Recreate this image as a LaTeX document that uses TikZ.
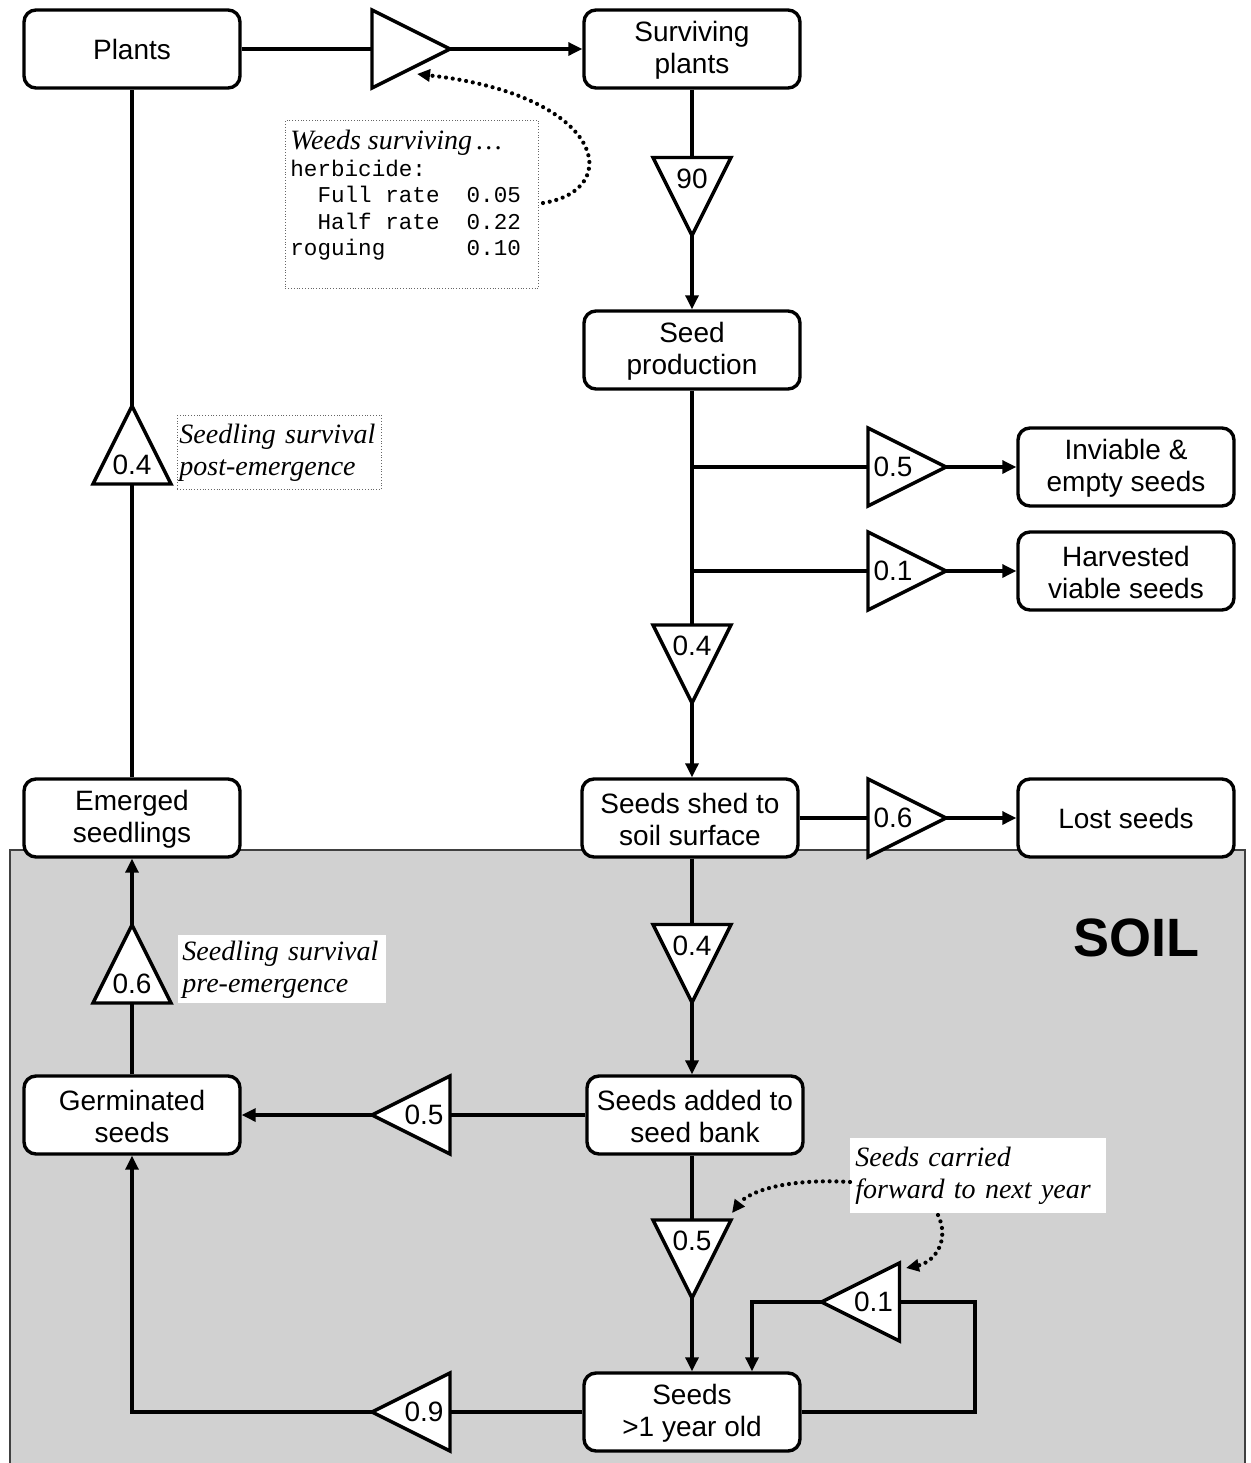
\documentclass[tikz,border=0pt]{standalone}
\usepackage{fontspec}
\setmainfont{Liberation Sans}
\newfontfamily\serifit{Liberation Serif}
\newfontfamily\monof{Liberation Mono}
\usetikzlibrary{arrows.meta,calc}

\tikzset{
  box/.style={draw, line width=1.7pt, rounded corners=6pt, fill=white,
    minimum width=108pt, minimum height=39pt, align=center, inner sep=2pt,
    font=\fontsize{14}{16}\selectfont},
  tb/.style={minimum width=39pt, minimum height=39pt, inner sep=0pt, outer sep=0pt},
  triline/.style={draw, line width=1.7pt, fill=white, line join=miter},
  num/.style={font=\fontsize{14}{16}\selectfont, inner sep=0pt},
  conn/.style={line width=1.6pt},
  arr/.style={conn, -{Triangle[length=7pt,width=6.5pt]}},
  dotarr/.style={line width=2.1pt, dash pattern=on 0pt off 3.4pt, line cap=round,
    -{Triangle[length=6.5pt,width=6pt]}},
  note/.style={font=\serifit\itshape\fontsize{14}{16}\selectfont, align=left,
    anchor=north west, inner xsep=2.5pt, inner ysep=2pt, fill=white},
}

\newcommand\TriR[4]{%
  \node[tb] (#1) at (#2,#3) {};
  \draw[triline] (#1.north west) -- (#1.east) -- (#1.south west) -- cycle;
  \node[num] (#1-l) at ($(#1.west)+(25,0)$) {#4};}
\newcommand\TriL[4]{%
  \node[tb] (#1) at (#2,#3) {};
  \draw[triline] (#1.north east) -- (#1.west) -- (#1.south east) -- cycle;
  \node[num] (#1-l) at ($(#1.east)+(-26,0)$) {#4};}
\newcommand\TriD[4]{%
  \node[tb] (#1) at (#2,#3) {};
  \draw[triline] (#1.north west) -- (#1.south) -- (#1.north east) -- cycle;
  \node[num] (#1-l) at ($(#1.north)+(0,21)$) {#4};}
\newcommand\TriU[4]{%
  \node[tb] (#1) at (#2,#3) {};
  \draw[triline] (#1.south west) -- (#1.north) -- (#1.south east) -- cycle;
  \node[num] (#1-l) at ($(#1.south)+(0,-19)$) {#4};}

\begin{document}
\begin{tikzpicture}[x=0.5pt,y=-0.5pt]
\useasboundingbox (0,0) rectangle (1250,1463);

% soil region
\fill[black!18] (10,850) rectangle (1245,1470);
\draw[black!75, line width=0.6pt] (10,1470) -- (10,850) -- (1245,850) -- (1245,1470);
\node[font=\bfseries\fontsize{27}{30}\selectfont] (soil) at (1136,938) {SOIL};

% boxes
\node[box] (plants)  at (132,49)   {Plants};
\node[box] (surv)    at (692,49)   {\strut Surviving\\plants};
\node[box] (seedp)   at (692,350)  {\strut Seed\\production};
\node[box] (inv)     at (1126,467) {\strut Inviable \&\\empty seeds};
\node[box] (harv)    at (1126,571) {\strut Harvested\\viable seeds};
\node[box] (shed)    at (690,818)  {\strut Seeds shed to\\soil surface};
\node[box] (lost)    at (1126,818) {Lost seeds};
\node[box] (emerged) at (132,818)  {\strut Emerged\\seedlings};
\node[box] (germ)    at (132,1115) {\strut Germinated\\seeds};
\node[box] (added)   at (695,1115) {\strut Seeds added to\\seed bank};
\node[box] (old)     at (692,1412) {\strut Seeds\\>1 year old};

% triangles
\TriR{t0}{411}{49}{}
\TriD{t90}{692}{196.5}{90}
\TriR{t05r}{907}{467}{0.5}
\TriR{t01r}{907}{571}{0.1}
\TriD{t04d}{692}{664}{0.4}
\TriR{t06r}{907}{818}{0.6}
\TriU{t04u}{132}{445}{0.4}
\TriU{t06u}{132}{964}{0.6}
\TriD{t04s}{692}{963.5}{0.4}
\TriL{t05l}{411}{1115}{0.5}
\TriD{t05d}{692}{1259}{0.5}
\TriL{t01l}{860.5}{1302}{0.1}
\TriL{t09l}{411}{1412}{0.9}

% connectors
\draw[conn] (plants.east) -- (t0.west);
\draw[arr] (t0.east) -- (surv.west);
\draw[conn] (surv.south) -- (t90.north);
\draw[arr] (t90.south) -- (seedp.north);
\draw[conn] (seedp.south) -- (t04d.north);
\draw[conn] (seedp.south |- t05r.west) -- (t05r.west);
\draw[conn] (seedp.south |- t01r.west) -- (t01r.west);
\draw[arr] (t05r.east) -- (inv.west);
\draw[arr] (t01r.east) -- (harv.west);
\draw[arr] (t04d.south) -- (t04d.south |- shed.north);
\draw[conn] (shed.east) -- (t06r.west);
\draw[arr] (t06r.east) -- (lost.west);
\draw[conn] (t04d.south |- shed.south) -- (t04s.north);
\draw[arr] (t04s.south) -- (t04s.south |- added.north);
\draw[conn] (added.west) -- (t05l.east);
\draw[arr] (t05l.west) -- (germ.east);
\draw[conn] (germ.north) -- (t06u.south);
\draw[arr] (t06u.north) -- (emerged.south);
\draw[conn] (emerged.north) -- (t04u.south);
\draw[conn] (t04u.north) -- (plants.south);
\draw[conn] (t05d.north |- added.south) -- (t05d.north);
\draw[arr] (t05d.south) -- (old.north);
\coordinate (lr) at (975,1302);
\coordinate (ll) at (752,1302);
\draw[conn] (old.east) -| (lr) -- (t01l.east);
\draw[arr] (t01l.west) -- (ll) -- (ll |- old.north);
\draw[conn] (old.west) -- (t09l.east);
\draw[arr] (t09l.west) -| (germ.south);

% notes
\node[draw=black!60, densely dotted, line width=0.4pt, fill=white, anchor=north west, inner sep=2.5pt] (weeds) at (285,120)
  {\parbox[c][79pt][t]{121.5pt}{\vspace*{2.5pt}{\serifit\itshape\fontsize{14}{16}\selectfont Weeds surviving\,\dots\par}
   {\monof\fontsize{11.3}{13.25}\selectfont herbicide:\\
   \mbox{}~~Full rate~~0.05\\
   \mbox{}~~Half rate~~0.22\\
   roguing~~~~~~0.10\par}}};
\node[note, draw=black!60, densely dotted, line width=0.4pt, text width=100pt, minimum height=37pt, inner xsep=1pt] (postem) at (177,415) {Seedling survival\\post-emergence};
\node[note, text width=100pt, minimum height=34pt, inner xsep=2pt] (preem) at (178,935) {Seedling survival\\pre-emergence};
\node[note, text width=123pt, minimum height=37.5pt] (carried) at (850,1138) {Seeds carried\\forward to next year};

% dotted arrows
\coordinate (w1) at (543,203);
\coordinate (w2) at (417,74);
\coordinate (c1) at (850,1182);
\coordinate (c2) at (732,1213);
\coordinate (c3) at (938,1215);
\coordinate (c4) at (906,1268);
\draw[dotarr] (w1) .. controls (625,190) and (605,95) .. (w2);
\draw[dotarr] (c1) .. controls (785,1178) and (748,1192) .. (c2);
\draw[dotarr] (c3) .. controls (950,1240) and (935,1262) .. (c4);
\end{tikzpicture}
\end{document}
